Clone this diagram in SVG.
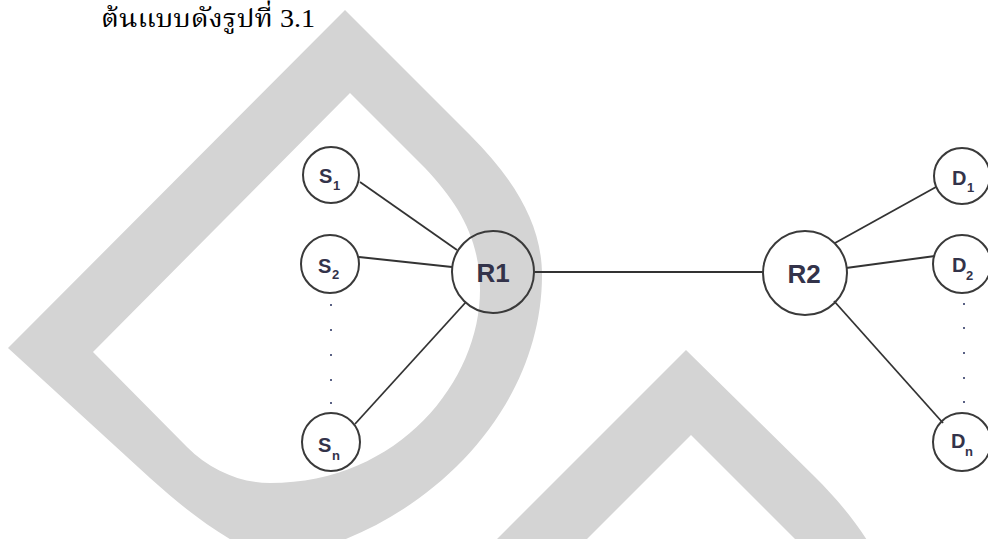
<svg xmlns="http://www.w3.org/2000/svg" width="988" height="539" viewBox="0 0 988 539">
  <style>
    .wm { fill: #d4d4d4; fill-rule: evenodd; }
    .node { fill: none; stroke: #3a3a3a; stroke-width: 2; }
    .edge { stroke: #333333; stroke-width: 1.8; fill: none; }
    .dot { fill: #5a6285; }
    .lbl { font-family: "Liberation Sans", Arial, sans-serif; font-weight: bold; fill: #33334a; }
    .big { font-size: 26px; }
    .sm { font-size: 20px; }
    .sub { font-size: 13px; }
    .title { font-family: "Liberation Serif", "Noto Serif Thai", "Noto Sans Thai", serif; font-size: 25px; fill: #000; }
  </style>

  <rect width="988" height="539" fill="#ffffff"/>

  <!-- background watermark shapes -->
  <g id="watermark">
    <path class="wm" d="M345,10 L470,135 C515,180 542,225 542,275 C542,400 445,505 330,545 L240,545 C205,525 180,505 150,478 L8,348 Z
                        M350,93 L425,168 C460,205 480,240 480,290 C480,380 400,483 270,483 C240,483 210,470 187,447 L93,352 Z"/>
    <path class="wm" d="M491,545 L686,350 L815,477 C835,497 855,520 870,545 L801,545 L691,435 L581,545 Z"/>
  </g>

  <text class="title" x="101" y="27" textLength="214" lengthAdjust="spacingAndGlyphs">ต้นแบบดังรูปที่ 3.1</text>

  <!-- connectors -->
  <g id="connectors">
    <line class="edge" x1="360" y1="182" x2="457" y2="250"/>
    <line class="edge" x1="359" y1="257" x2="452" y2="267"/>
    <line class="edge" x1="355" y1="424" x2="466" y2="302"/>
    <line class="edge" x1="534" y1="272" x2="763" y2="272"/>
    <line class="edge" x1="835" y1="243" x2="936" y2="187"/>
    <line class="edge" x1="846" y1="268" x2="935" y2="256"/>
    <line class="edge" x1="834" y1="301" x2="943" y2="423"/>
  </g>

  <!-- elision dots -->
  <g id="dots-s">
    <rect class="dot" x="330" y="304" width="2" height="2"/>
    <rect class="dot" x="330" y="329" width="2" height="2"/>
    <rect class="dot" x="330" y="354" width="2" height="2"/>
    <rect class="dot" x="330" y="379" width="2" height="2"/>
    <rect class="dot" x="330" y="402" width="2" height="2"/>
  </g>
  <g id="dots-d">
    <rect class="dot" x="963" y="303" width="2" height="2"/>
    <rect class="dot" x="963" y="327" width="2" height="2"/>
    <rect class="dot" x="963" y="352" width="2" height="2"/>
    <rect class="dot" x="963" y="377" width="2" height="2"/>
    <rect class="dot" x="963" y="401" width="2" height="2"/>
  </g>

  <g id="S1">
    <circle class="node" cx="331" cy="175" r="28"/>
    <text class="lbl sm" x="319" y="183">S</text>
    <text class="lbl sub" x="333" y="190">1</text>
  </g>
  <g id="S2">
    <circle class="node" cx="330" cy="264" r="29"/>
    <text class="lbl sm" x="318" y="273">S</text>
    <text class="lbl sub" x="332" y="279">2</text>
  </g>
  <g id="Sn">
    <circle class="node" cx="331" cy="442" r="29"/>
    <text class="lbl sm" x="318" y="452">S</text>
    <text class="lbl sub" x="332" y="460">n</text>
  </g>
  <g id="R1">
    <circle class="node" cx="493" cy="272" r="41"/>
    <text class="lbl big" x="493" y="282" text-anchor="middle">R1</text>
  </g>
  <g id="R2">
    <circle class="node" cx="805" cy="273" r="42"/>
    <text class="lbl big" x="804" y="283" text-anchor="middle">R2</text>
  </g>
  <g id="D1">
    <circle class="node" cx="962" cy="176" r="28"/>
    <text class="lbl sm" x="952" y="185">D</text>
    <text class="lbl sub" x="967" y="192">1</text>
  </g>
  <g id="D2">
    <circle class="node" cx="962" cy="264" r="29"/>
    <text class="lbl sm" x="952" y="272">D</text>
    <text class="lbl sub" x="966" y="280">2</text>
  </g>
  <g id="Dn">
    <circle class="node" cx="962" cy="442" r="29"/>
    <text class="lbl sm" x="951" y="448">D</text>
    <text class="lbl sub" x="965" y="456">n</text>
  </g>
</svg>
